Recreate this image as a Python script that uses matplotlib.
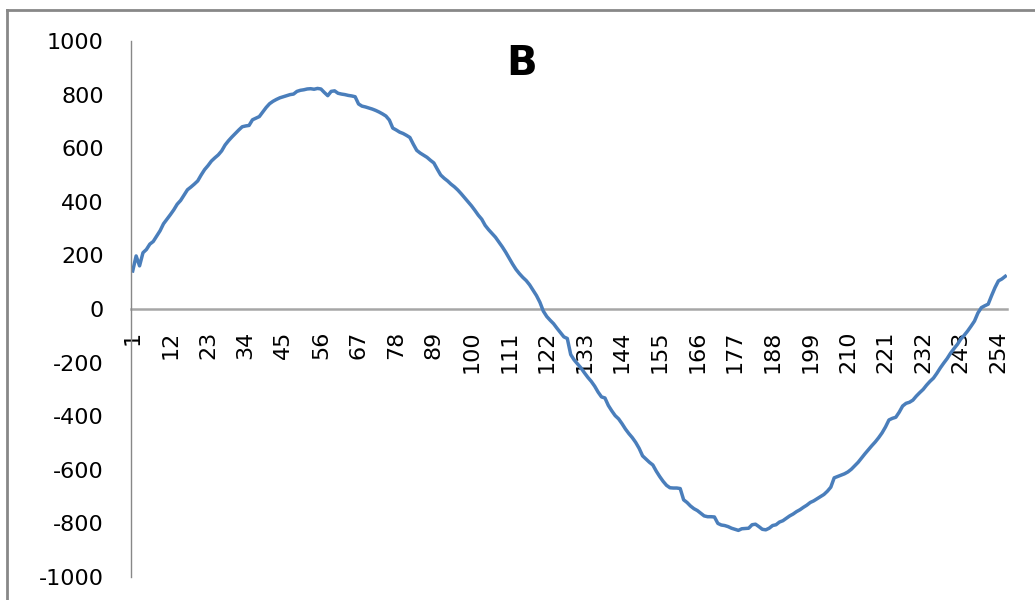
import matplotlib
matplotlib.use("Agg")
import matplotlib.pyplot as plt
from matplotlib.lines import Line2D

plt.rcParams["font.family"] = "DejaVu Sans"
plt.rcParams["axes.unicode_minus"] = False

samples = list(range(1, 257))
values = [
    142, 198, 161, 210, 222, 242, 252, 272, 292, 318,
    335, 352, 370, 391, 405, 425, 445, 455, 466, 478,
    500, 520, 535, 552, 564, 575, 590, 612, 628, 642,
    655, 668, 680, 683, 685, 706, 712, 718, 735, 752,
    766, 775, 782, 788, 792, 796, 800, 802, 812, 816,
    818, 821, 822, 820, 823, 821, 808, 796, 812, 814,
    805, 802, 800, 797, 795, 792, 765, 757, 754, 750,
    746, 741, 735, 728, 720, 705, 675, 668, 660, 655,
    648, 640, 615, 592, 582, 574, 566, 555, 545, 522,
    500, 488, 478, 466, 456, 444, 430, 415, 400, 385,
    368, 350, 335, 312, 296, 282, 268, 250, 232, 212,
    190, 168, 148, 132, 118, 106, 90, 70, 50, 25,
    -8, -28, -42, -55, -72, -88, -104, -110, -170, -190,
    -205, -220, -238, -255, -270, -288, -310, -328, -332, -360,
    -380, -398, -410, -428, -448, -465, -480, -498, -520, -548,
    -560, -572, -582, -605, -625, -643, -658, -667, -668, -668,
    -670, -712, -722, -735, -745, -752, -762, -772, -775, -775,
    -776, -800, -806, -808, -812, -818, -822, -826, -820, -819,
    -818, -805, -803, -812, -822, -824, -818, -808, -805, -795,
    -790, -781, -772, -765, -756, -749, -740, -732, -722, -716,
    -708, -700, -692, -680, -665, -630, -625, -620, -615, -608,
    -598, -585, -572, -556, -540, -525, -510, -496, -480, -462,
    -440, -414, -408, -404, -385, -362, -352, -348, -340, -325,
    -312, -300, -284, -270, -258, -240, -220, -202, -185, -165,
    -148, -132, -112, -98, -82, -64, -45, -15, 5, 12,
    18, 50, 80, 105, 112, 122,
]
assert len(values) == len(samples)

xtick_pos = list(range(1, 257, 11))
yticks = [-1000, -800, -600, -400, -200, 0, 200, 400, 600, 800, 1000]

fig = plt.figure(figsize=(10.35, 6.0), dpi=100)
ax = fig.add_axes([131 / 1035, 1 - 577 / 600, 876 / 1035, 536 / 600])

ax.plot(samples, values, color="#4a7ebb", lw=2.5, solid_joinstyle="round")

ax.set_xlim(0.5, 256.5)
ax.set_ylim(-1000, 1000)
ax.set_yticks(yticks)
ax.set_xticks(xtick_pos)
ax.set_xticklabels([str(t) for t in xtick_pos])

for s in ("top", "right"):
    ax.spines[s].set_visible(False)
ax.spines["left"].set_color("#888888")
ax.spines["left"].set_linewidth(1.0)
ax.spines["bottom"].set_position(("data", 0))
ax.spines["bottom"].set_color("#a6a6a6")
ax.spines["bottom"].set_linewidth(1.8)
ax.spines["bottom"].set_zorder(1)

ax.tick_params(axis="y", length=0, labelsize=16, pad=19.5)
ax.tick_params(axis="x", length=0, labelsize=16, pad=15.5, labelrotation=90)

fig.text(522 / 1035, 1 - 64 / 600, "B", fontsize=29, fontweight="bold",
         ha="center", va="center")

# outer chart frame (left and top edges)
fig.add_artist(Line2D([7 / 1035, 7 / 1035], [0, 1 - 10 / 600],
                      transform=fig.transFigure, color="#888888", lw=2))
fig.add_artist(Line2D([7 / 1035, 1], [1 - 10 / 600, 1 - 10 / 600],
                      transform=fig.transFigure, color="#888888", lw=2))

fig.savefig("out.png", dpi=100)
